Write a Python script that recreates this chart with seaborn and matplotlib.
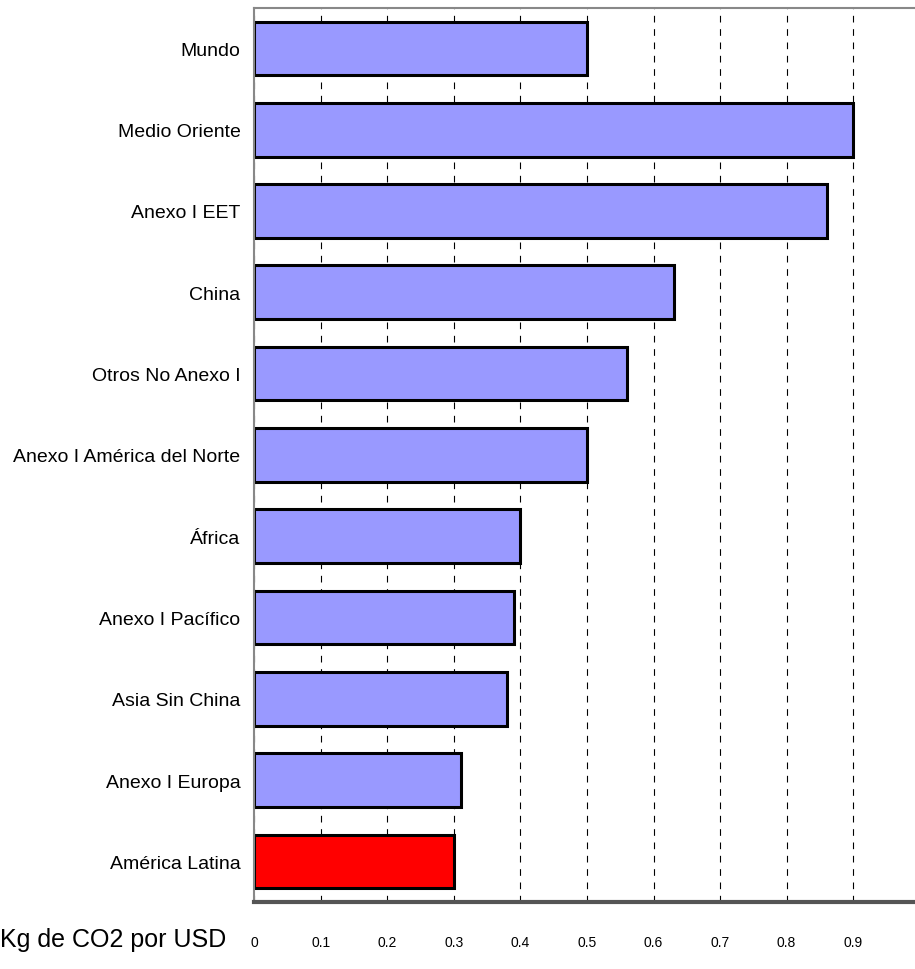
# CO2 intensity by region (Kg de CO2 por USD)

import matplotlib
matplotlib.use('Agg')
import matplotlib.pyplot as plt
from matplotlib import font_manager
import seaborn as sns
import pandas as pd

# Data
regions = ['Mundo', 'Medio Oriente', 'Anexo I EET', 'China', 'Otros No Anexo I',
           'Anexo I América del Norte', 'África', 'Anexo I Pacífico',
           'Asia Sin China', 'Anexo I Europa', 'América Latina']
values = [0.50, 0.90, 0.86, 0.63, 0.56, 0.50, 0.40, 0.39, 0.38, 0.31, 0.30]
highlight = ['no'] * 10 + ['yes']
xticks = [0, 0.1, 0.2, 0.3, 0.4, 0.5, 0.6, 0.7, 0.8, 0.9]

df = pd.DataFrame({'Region': regions, 'Valor': values, 'Destacar': highlight})

sns.set_style('white')
installed = {f.name for f in font_manager.fontManager.ttflist}
narrow = 'Liberation Sans Narrow' in installed
plt.rcParams['font.family'] = ['Liberation Sans Narrow' if narrow else 'Liberation Sans',
                               'DejaVu Sans']
plt.rcParams['text.color'] = 'black'
lab_size = 16.5 if narrow else 14

fig = plt.figure(figsize=(9.15, 9.7), dpi=100)
ax = fig.add_axes([0.278, 0.069, 0.722, 0.922])

sns.barplot(data=df, x='Valor', y='Region', hue='Destacar',
            palette={'no': '#9999FF', 'yes': '#FF0000'}, saturation=1,
            edgecolor='black', linewidth=2.2, width=0.66,
            dodge=False, legend=False, ax=ax)

ax.set_xlim(0, 0.993)
ax.set_xticks(xticks)
ax.set_xticklabels([f'{t:g}' for t in xticks], fontsize=10)
ax.tick_params(axis='y', labelsize=lab_size, length=0, pad=10, colors='black')
ax.tick_params(axis='x', length=0, pad=24, colors='black')
ax.set_ylabel('')
ax.set_xlabel('')

# dashed vertical grid behind the bars
ax.set_axisbelow(True)
ax.xaxis.grid(True, linestyle=(0, (6, 6)), color='black', linewidth=0.8)

for side in ['top', 'left']:
    ax.spines[side].set_color('#888888')
    ax.spines[side].set_linewidth(1.5)
ax.spines['bottom'].set_color('#555555')
ax.spines['bottom'].set_linewidth(3)
ax.spines['right'].set_visible(False)

fig.text(0.0, 0.031, 'Kg de CO2 por USD', fontsize=18, ha='left', va='center')

plt.savefig('out.png', dpi=100)
